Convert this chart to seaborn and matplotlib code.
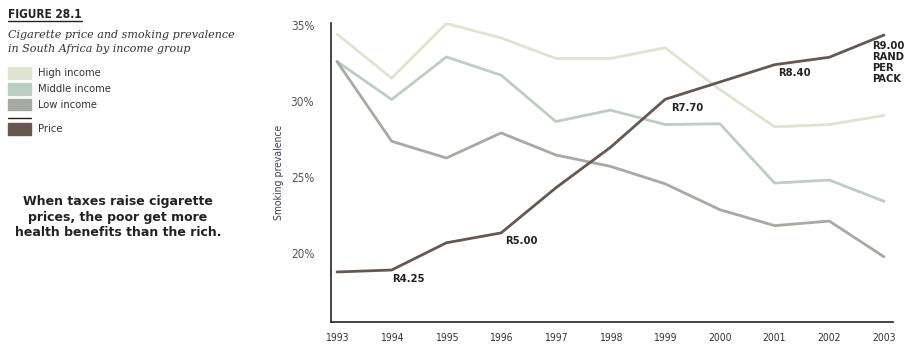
import matplotlib
matplotlib.use("Agg")
import matplotlib.pyplot as plt
import seaborn as sns
import pandas as pd
import numpy as np
from matplotlib.patches import Rectangle
from matplotlib.lines import Line2D

years = [1993, 1994, 1995, 1996, 1997, 1998, 1999, 2000, 2001, 2002, 2003]
high_income = [34.4, 31.5, 35.1, 34.15, 32.8, 32.8, 33.5, 30.75, 28.3, 28.45, 29.05]
middle_income = [32.6, 30.1, 32.9, 31.7, 28.65, 29.4, 28.45, 28.5, 24.6, 24.8, 23.4]
low_income = [32.6, 27.35, 26.25, 27.9, 26.45, 25.7, 24.55, 22.85, 21.8, 22.1, 19.75]
price = [4.21, 4.25, 4.80, 5.00, 5.91, 6.73, 7.70, 8.05, 8.40, 8.55, 9.00]
price_labels = {1994: "R4.25", 1996: "R5.00", 1999: "R7.70", 2001: "R8.40", 2003: "R9.00\nRAND\nPER\nPACK"}
series_names = ["High income", "Middle income", "Low income"]
y_ticks = [20, 25, 30, 35]

colors = {"High income": "#dde4cf", "Middle income": "#bccebf", "Low income": "#a5aba0"}
price_color = "#66584f"

sns.set_theme(style="white")
plt.rcParams["font.family"] = ["DejaVu Sans"]
cond = dict(family=["DejaVu Sans"], fontstretch="condensed")

W, H = 912, 349
fig = plt.figure(figsize=(W / 100, H / 100), dpi=100)
ax_l, ax_r, ax_t, ax_b = 331, 893, 23, 322
ax = fig.add_axes([ax_l / W, 1 - ax_b / H, (ax_r - ax_l) / W, (ax_b - ax_t) / H])

df = pd.DataFrame({"year": years * 3,
                   "value": high_income + middle_income + low_income,
                   "group": sum([[n] * len(years) for n in series_names], [])})
sns.lineplot(data=df, x="year", y="value", hue="group", palette=colors,
             hue_order=series_names, ax=ax, linewidth=2.0, legend=False)

px_per = (101 - 25) / 5.0
y_top = 35 + (25 - ax_t) / px_per
y_bot = 35 - (ax_b - 25) / px_per
ax.set_ylim(y_bot, y_top)
x_per = (884 - 337) / 10.0
ax.set_xlim(1993 - (337 - ax_l) / x_per, 2003 + (ax_r - 884) / x_per)

ax2 = ax.twinx()
pdf = pd.DataFrame({"year": years, "price": price})
sns.lineplot(data=pdf, x="year", y="price", color=price_color, ax=ax2, linewidth=2.0)
r_per = (270 - 35) / (9.00 - 4.25)
ax2.set_ylim(4.25 - (ax_b - 270) / r_per, 4.25 + (270 - ax_t) / r_per)
ax2.set_yticks([])
ax2.set_ylabel("")
for s in ax2.spines.values():
    s.set_visible(False)

offsets = {1994: (0, -4), 1996: (4, -3), 1999: (6, -4), 2001: (4, -3), 2003: (-12, -6)}
for yr, lab in price_labels.items():
    v = price[years.index(yr)]
    ax2.annotate(lab, (yr, v), xytext=offsets[yr], textcoords="offset pixels",
                 ha="left", va="top", fontsize=8, fontweight="bold",
                 color="#222222", linespacing=1.12, **cond)

for s in ["top", "right"]:
    ax.spines[s].set_visible(False)
ax.spines["left"].set_color("#222222")
ax.spines["bottom"].set_color("#222222")
ax.spines["left"].set_linewidth(1.2)
ax.spines["bottom"].set_linewidth(1.2)

ax.set_xticks(years)
ax.set_xticklabels([str(y) for y in years], fontsize=7.5, color="#333333", **cond)
ax.set_yticks(y_ticks)
ax.set_yticklabels([f"{t}%" for t in y_ticks], fontsize=8.5, color="#555555", **cond)
ax.tick_params(axis="y", length=0, pad=12)
ax.tick_params(axis="x", length=0, pad=8)
ax.set_xlabel("")
ax.set_ylabel("Smoking prevalence", fontsize=7.5, color="#4a3a55", labelpad=5, **cond)

title = fig.text(8 / W, 1 - 14 / H, "FIGURE 28.1", fontsize=8.5, fontweight="bold",
                 color="#222222", va="center", ha="left", **cond)
fig.canvas.draw()
tb = title.get_window_extent()
fig.add_artist(Line2D([tb.x0 / W, tb.x1 / W], [1 - 20.5 / H, 1 - 20.5 / H], color="#222222", lw=1.0))
fig.text(8 / W, 1 - 42 / H, "Cigarette price and smoking prevalence\nin South Africa by income group",
         family=["DejaVu Serif"], style="italic", fontsize=8, color="#333333",
         va="center", ha="left", linespacing=1.45)

rows = [("High income", colors["High income"], 73), ("Middle income", colors["Middle income"], 89),
        ("Low income", colors["Low income"], 105), ("Price", price_color, 129)]
for name, c, yc in rows:
    fig.add_artist(Rectangle((8 / W, 1 - (yc + 5.5) / H), 23 / W, 11 / H, color=c,
                             transform=fig.transFigure))
    fig.text(38 / W, 1 - yc / H, name, fontsize=8, color="#333333",
             va="center", ha="left", **cond)
fig.add_artist(Line2D([8 / W, 31 / W], [1 - 118 / H, 1 - 118 / H], color="#222222", lw=1.0))

fig.text(118 / W, 1 - 217 / H,
         "When taxes raise cigarette\nprices, the poor get more\nhealth benefits than the rich.",
         fontsize=9, fontweight="bold", color="#222222", ha="center", va="center",
         linespacing=1.2)

fig.savefig("out.png", dpi=100)
